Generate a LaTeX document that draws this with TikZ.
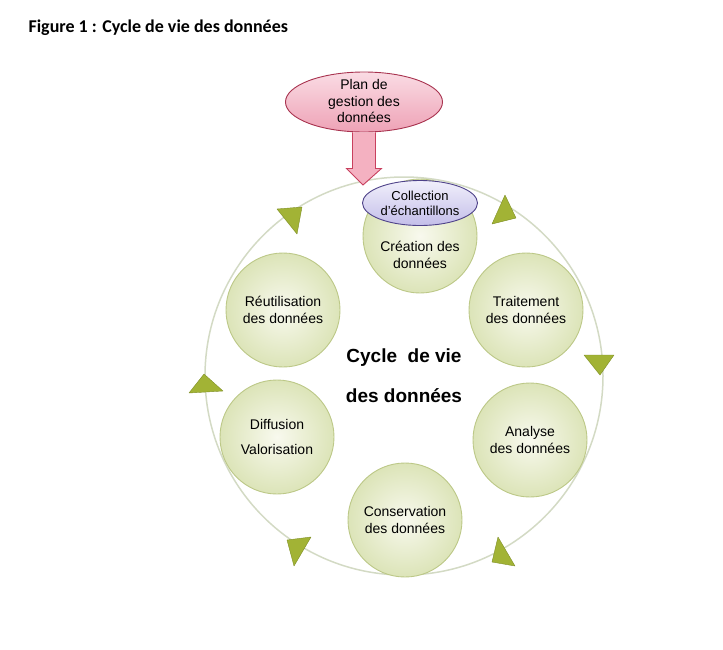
\documentclass[tikz,border=0pt]{standalone}
\usepackage{fontspec}
\setmainfont{Liberation Sans}
\newfontfamily\titlefont{Carlito}
\usepackage{xcolor}
\usetikzlibrary{shapes.geometric, calc, math}

\definecolor{ringline}{HTML}{D3DAC4}
\definecolor{phasein}{HTML}{F8F9EE}
\definecolor{phaseout}{HTML}{DCE4B8}
\definecolor{phaseline}{HTML}{BCC887}
\definecolor{trigreen}{HTML}{A2B335}
\definecolor{triedge}{HTML}{7F8F26}
\definecolor{plantop}{HTML}{FADCE4}
\definecolor{planbottom}{HTML}{EEA2B6}
\definecolor{planline}{HTML}{A8334F}
\definecolor{arrowfill}{HTML}{F4B1C1}
\definecolor{arrowline}{HTML}{C8405E}
\definecolor{colltop}{HTML}{F0EFFB}
\definecolor{collbottom}{HTML}{C4BEE9}
\definecolor{collline}{HTML}{4E4289}

\begin{document}
\begin{tikzpicture}[x=1pt,y=-1pt,
  phase/.style={circle, draw=phaseline, line width=0.9, minimum size=114,
    inner color=phasein, outer color=phaseout, align=center,
    font=\fontsize{14}{16.5}\selectfont},
  phasetext/.style={align=center, font=\fontsize{14}{16.5}\selectfont},
  tri/.style={fill=trigreen, draw=triedge, line width=0.4, line join=round}]
\tikzmath{
\r=199;
\sw=11.5;
\hw=17.5;
}
\useasboundingbox (0,0) rectangle (723,649);

\node[anchor=base west, font=\titlefont\bfseries\fontsize{18}{21}\selectfont] (title) at (25,32) {Figure 1 : Cycle de vie des données};

% the ring and its arrow heads
\coordinate (ring) at (404,376);
\draw[ringline, line width=1.5] (ring) circle (\r pt);
\filldraw[tri] (277,209) -- (302,207) -- (297,234) -- cycle;
\filldraw[tri] (505,195) -- (516,218) -- (492,224) -- cycle;
\filldraw[tri] (584,355) -- (614,355) -- (600,375) -- cycle;
\filldraw[tri] (498,537) -- (515,566) -- (492,562) -- cycle;
\filldraw[tri] (287,540) -- (311,537) -- (294,566) -- cycle;
\filldraw[tri] (204,374) -- (223,391) -- (189,393) -- cycle;

% the phases
\node[phase, label={[phasetext, yshift=-19pt]center:Création des\\données}] (creation) at (420,236) {};
\node[phase] (traitement) at (526,310) {Traitement\\des données};
\node[phase] (analyse) at (530,440) {Analyse\\des données};
\node[phase] (conservation) at (405,520) {Conservation\\des données};
\node[phase] (diffusion) at (277,437) {Diffusion\\[8.5pt]Valorisation};
\node[phase] (reutilisation) at (283,310) {Réutilisation\\des données};

\node[align=center, font=\bfseries\fontsize{19}{40}\selectfont] (cycle) at (404,376) {Cycle\ \ de vie\\des données};

\node[ellipse, draw=collline, line width=0.9, minimum width=115, minimum height=45, inner sep=0,
  top color=colltop, bottom color=collbottom, align=center,
  font=\fontsize{13}{15}\selectfont] (collection) at (420,203) {Collection\\d'échantillons};

% plan and its block arrow
\node[ellipse, draw=planline, line width=0.9, minimum width=157, minimum height=60, inner sep=0,
  top color=plantop, bottom color=planbottom,
  label={[align=center, font=\fontsize{14}{16.8}\selectfont, yshift=1pt]center:Plan de\\gestion des\\données}] (plan) at (364,102) {};
\coordinate (ringtop) at (363,185);
\filldraw[fill=arrowfill, draw=arrowline, line width=0.9, line join=miter]
  ($(plan.south)+(\sw,0)$) -- ($(plan.south)+(\sw,36)$) -- ($(plan.south)+(\hw,36)$) -- (ringtop)
  -- ($(plan.south)+(-\hw,36)$) -- ($(plan.south)+(-\sw,36)$) -- ($(plan.south)+(-\sw,0)$);
\end{tikzpicture}
\end{document}
